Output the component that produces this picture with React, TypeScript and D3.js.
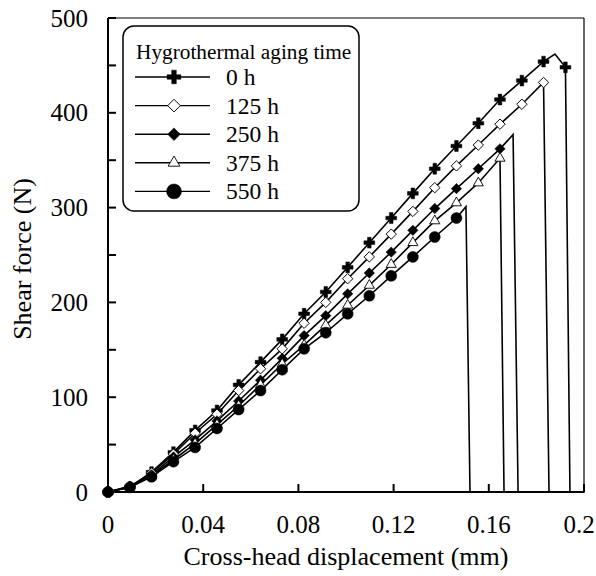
import React from "react";
import * as d3 from "d3";

// marker displacements (mm)
const disp = [0, 0.0092, 0.0183, 0.0275, 0.0366, 0.0458, 0.0549, 0.0641, 0.0732, 0.0824, 0.0915, 0.1007, 0.1098, 0.119, 0.1281, 0.1373, 0.1464, 0.1556, 0.1647, 0.1739, 0.183, 0.1922];

const seriesNames = ["0 h", "125 h", "250 h", "375 h", "550 h"];
const seriesMarkers = ["cross", "diamondOpen", "diamondFilled", "triangleOpen", "circle"];

// force at each marker (N)
const force0 = [0, 5, 21, 42, 65, 86, 113, 137, 161, 188, 211, 237, 263, 289, 315, 341, 365, 389, 414, 434, 454, 448];
const force125 = [0, 6, 20, 40, 62, 82, 107, 130, 151, 178, 200, 225, 248, 272, 296, 321, 344, 366, 388, 409, 432];
const force250 = [0, 6, 18, 37, 55, 75, 96, 118, 141, 165, 186, 209, 231, 253, 276, 299, 320, 341, 362];
const force375 = [0, 5, 17, 34, 51, 71, 91, 113, 135, 155, 176, 197, 218, 240, 263, 286, 305, 326, 352];
const force550 = [0, 5, 16, 32, 47, 67, 87, 107, 129, 151, 168, 188, 207, 228, 248, 269, 289];

// extra line points (peak / failure drop), inserted by displacement order
const tail0X = [0.1878, 0.1941];
const tail0Y = [462, 0];
const tail125X = [0.1853];
const tail125Y = [0];
const tail250X = [0.1702, 0.1723];
const tail250Y = [377, 0];
const tail375X = [0.1664];
const tail375Y = [0];
const tail550X = [0.1504, 0.1521];
const tail550Y = [301, 0];

const forces = [force0, force125, force250, force375, force550];
const tailsX = [tail0X, tail125X, tail250X, tail375X, tail550X];
const tailsY = [tail0Y, tail125Y, tail250Y, tail375Y, tail550Y];

const xTicks = [0, 0.04, 0.08, 0.12, 0.16, 0.2];
const xTickLabels = ["0", "0.04", "0.08", "0.12", "0.16", "0.2"];
const yTicks = [0, 100, 200, 300, 400, 500];
const yMinorTicks = [50, 150, 250, 350, 450];

const FONT = '"Liberation Serif", "Times New Roman", serif';

function markerPath(kind: string, big: boolean): string {
  if (kind === "cross") return d3.symbol(d3.symbolCross, big ? 105 : 65)() as string;
  if (kind === "circle") return d3.symbol(d3.symbolCircle, big ? 175 : 95)() as string;
  if (kind === "triangleOpen") return d3.symbol(d3.symbolTriangle, big ? 60 : 44)() as string;
  return d3.symbol(d3.symbolSquare, big ? 80 : 54)() as string;
}

function Marker({ kind, x, y, big }: { kind: string; x: number; y: number; big: boolean }) {
  const d = markerPath(kind, big);
  const open = kind === "diamondOpen" || kind === "triangleOpen";
  const rot = kind.startsWith("diamond") ? " rotate(45)" : "";
  return (
    <path
      d={d}
      transform={`translate(${x},${y})${rot}`}
      fill={open ? "#fff" : "#000"}
      stroke="#000"
      strokeWidth={open ? 0.9 : 0.5}
    />
  );
}

export default function App() {
  const x = d3.scaleLinear().domain([0, 0.2]).range([108, 584]);
  const y = d3.scaleLinear().domain([0, 500]).range([492, 18]);
  const line = d3
    .line<[number, number]>()
    .x((d) => x(d[0]))
    .y((d) => y(d[1]));

  const ts = { fontFamily: FONT };

  return (
    <svg width={596} height={576} style={{ position: "absolute", left: 0, top: 0, background: "#fff" }}>
      <rect x={0} y={0} width={596} height={576} fill="#fff" />
      {/* frame top/right */}
      <line x1={x(0)} x2={x(0.2)} y1={y(500)} y2={y(500)} stroke="#000" strokeWidth={1} />
      <line x1={x(0.2)} x2={x(0.2)} y1={y(500)} y2={y(0)} stroke="#000" strokeWidth={1.2} />

      {/* curves */}
      {forces.map((f, i) => {
        const pts: [number, number][] = f.map((v, k) => [disp[k], v]);
        tailsX[i].forEach((tx, j) => pts.push([tx, tailsY[i][j]]));
        pts.sort((a, b) => a[0] - b[0]);
        return <path key={"l" + i} d={line(pts) as string} fill="none" stroke="#000" strokeWidth={1.6} />;
      })}
      {forces.map((f, i) =>
        f.map((v, k) => <Marker key={`m${i}-${k}`} kind={seriesMarkers[i]} x={x(disp[k])} y={y(v)} big={false} />)
      )}

      {/* axes */}
      <line x1={x(0)} x2={x(0)} y1={y(500)} y2={y(0) + 1} stroke="#000" strokeWidth={2} />
      <line x1={x(0) - 1} x2={x(0.2) + 0.6} y1={y(0)} y2={y(0)} stroke="#000" strokeWidth={2} />
      {[...yTicks, ...yMinorTicks].map((t) => (
        <line key={"yt" + t} x1={x(0)} x2={x(0) + 8} y1={y(t)} y2={y(t)} stroke="#000" strokeWidth={2} />
      ))}
      {xTicks.map((t) => (
        <line key={"xt" + t} x1={x(t)} x2={x(t)} y1={y(0)} y2={y(0) - 8} stroke="#000" strokeWidth={2} />
      ))}
      {yTicks.map((t) => (
        <text key={"yl" + t} x={88} y={y(t)} dy="0.34em" textAnchor="end" fontSize={25} style={ts}>
          {t}
        </text>
      ))}
      {xTicks.map((t, i) => (
        <text key={"xl" + t} x={Math.min(x(t), 579)} y={533} textAnchor="middle" fontSize={25} style={ts}>
          {xTickLabels[i]}
        </text>
      ))}
      <text x={346} y={565} textAnchor="middle" fontSize={26} style={ts}>
        Cross-head displacement (mm)
      </text>
      <text transform="translate(31,259) rotate(-90)" textAnchor="middle" fontSize={26} style={ts}>
        Shear force (N)
      </text>

      {/* legend */}
      <rect x={123} y={26} width={236} height={185} rx={11} ry={11} fill="#fff" stroke="#000" strokeWidth={1.5} />
      <text x={136} y={59} fontSize={21.3} style={ts}>
        Hygrothermal aging time
      </text>
      {seriesNames.map((n, i) => {
        const cy = 77 + i * 28.6;
        return (
          <g key={"lg" + i}>
            <line x1={135} x2={210} y1={cy} y2={cy} stroke="#000" strokeWidth={1.4} />
            <Marker kind={seriesMarkers[i]} x={174} y={cy} big={true} />
            <text x={226} y={cy} dy="0.34em" fontSize={23.5} style={ts}>
              {n}
            </text>
          </g>
        );
      })}
    </svg>
  );
}
